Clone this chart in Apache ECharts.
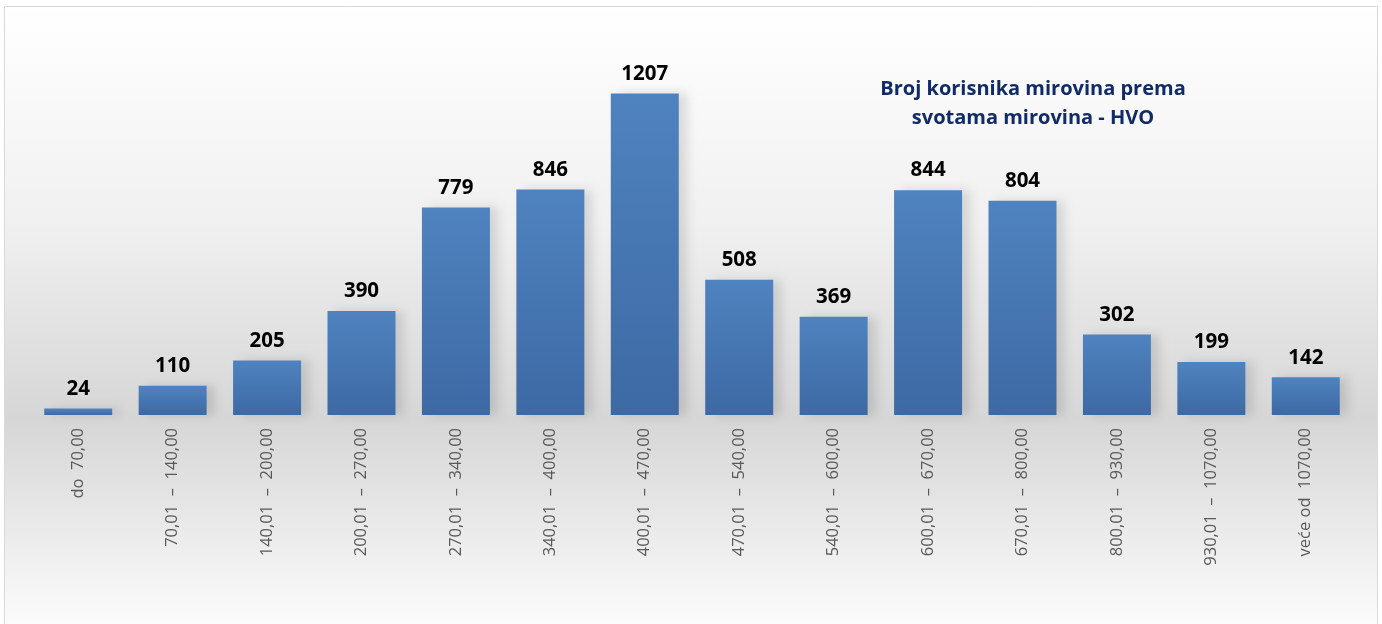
<!DOCTYPE html>
<html>
<head>
<meta charset="utf-8">
<script src="https://cdn.jsdelivr.net/npm/echarts@6/dist/echarts.min.js"></script>
<style>
  html, body { margin: 0; padding: 0; background: #fff; }
  #chart { width: 1382px; height: 624px; }
</style>
</head>
<body>
<div id="chart"></div>
<script>
// iznosi mirovina (KM) - kategorije
var categories = [
  'do  70,00', '70,01  –  140,00', '140,01  –  200,00', '200,01  –  270,00',
  '270,01  –  340,00', '340,01  –  400,00', '400,01  –  470,00', '470,01  –  540,00',
  '540,01  –  600,00', '600,01  –  670,00', '670,01  –  800,00', '800,01  –  930,00',
  '930,01  –  1070,00', 'veće od  1070,00'
];
// broj korisnika
var users = [24, 110, 205, 390, 779, 846, 1207, 508, 369, 844, 804, 302, 199, 142];
var titleLines = ['Broj korisnika mirovina prema', 'svotama mirovina - HVO'];

var font = '"Open Sans", sans-serif';
var chart = echarts.init(document.getElementById('chart'));

var option = {
  backgroundColor: '#ffffff',
  animation: false,
  graphic: [{
    type: 'rect',
    z: -10,
    shape: { x: 4.5, y: 6.5, width: 1373, height: 625 },
    style: {
      fill: new echarts.graphic.LinearGradient(0, 0, 0, 1, [
        { offset: 0, color: '#ffffff' },
        { offset: 0.35, color: '#f0f0f0' },
        { offset: 0.66, color: '#d6d6d6' },
        { offset: 1, color: '#fdfdfd' }
      ]),
      stroke: '#d9d9d9',
      lineWidth: 1
    }
  }],
  title: {
    text: titleLines.join('\n'),
    left: 1028,
    top: 70,
    textAlign: 'center',
    textStyle: {
      fontFamily: font,
      fontSize: 20,
      fontWeight: 'bold',
      color: '#112b66',
      lineHeight: 29
    }
  },
  grid: { left: 31, right: 29, top: 42, bottom: 209, containLabel: false },
  xAxis: {
    type: 'category',
    data: categories,
    axisLine: { show: false },
    axisTick: { show: false },
    axisLabel: {
      rotate: 90,
      interval: 0,
      margin: 13,
      fontFamily: font,
      fontSize: 16.5,
      color: '#595959'
    }
  },
  yAxis: {
    type: 'value',
    min: 0,
    max: 1400,
    show: false,
    splitLine: { show: false }
  },
  series: [{
    type: 'bar',
    data: users,
    barCategoryGap: '28%',
    itemStyle: {
      color: new echarts.graphic.LinearGradient(0, 0, 0, 1, [
        { offset: 0, color: '#4f83bf' },
        { offset: 1, color: '#3d69a4' }
      ]),
      shadowColor: 'rgba(0,0,0,0.12)',
      shadowBlur: 10,
      shadowOffsetX: 8,
      shadowOffsetY: 0
    },
    label: {
      show: true,
      position: 'top',
      distance: 9,
      fontFamily: font,
      fontSize: 20.5,
      fontWeight: 'bold',
      color: '#000000'
    }
  }]
};

chart.setOption(option);
</script>
</body>
</html>
